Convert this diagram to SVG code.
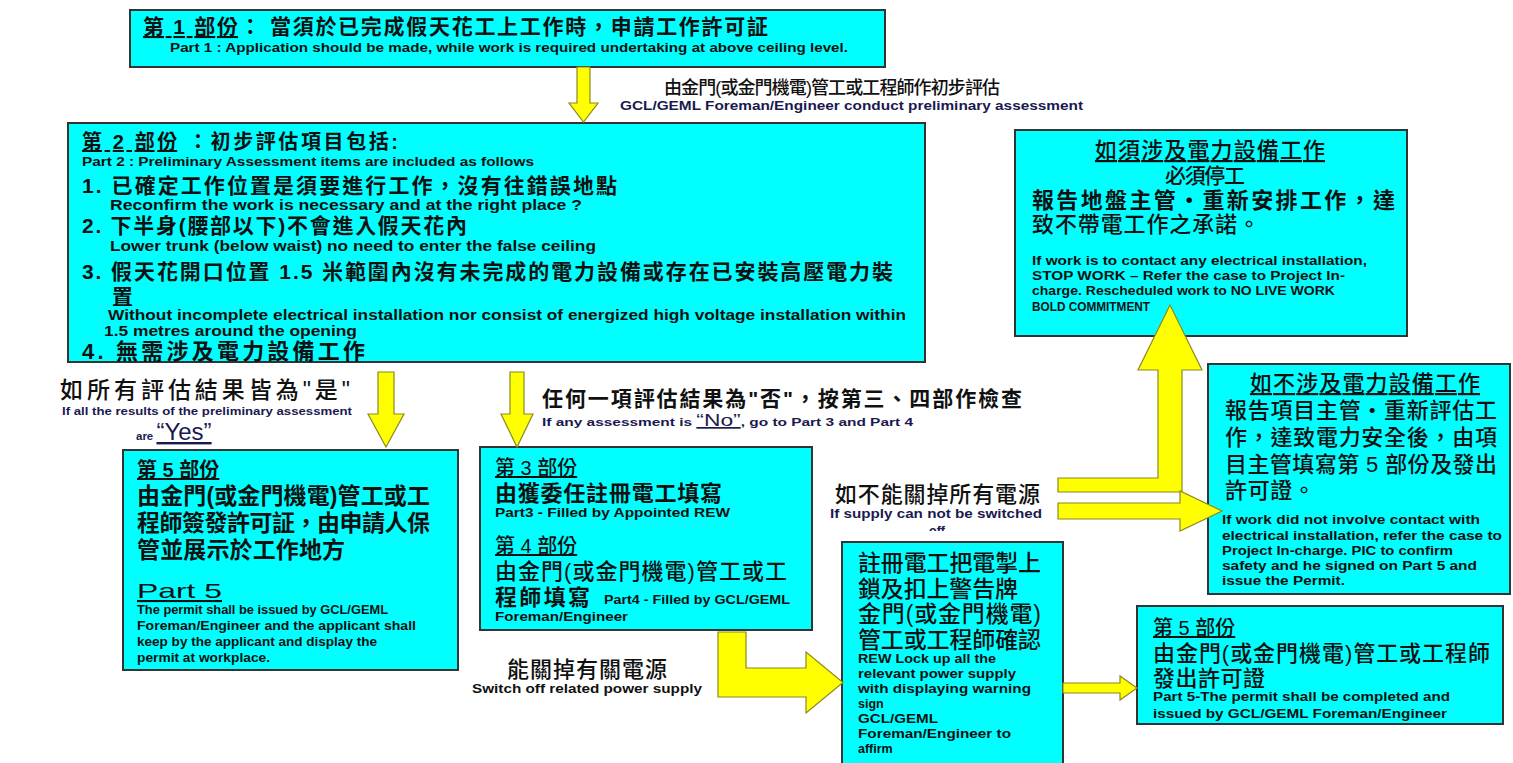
<svg xmlns="http://www.w3.org/2000/svg" width="1513" height="763" viewBox="0 0 1513 763">
<style>
text{font-family:"Liberation Sans","Noto Sans CJK TC",sans-serif;fill:#111;font-weight:700}
.box{fill:#00FFFF;stroke:#333;stroke-width:2}
.arr{fill:#FFFF00;stroke:#8a8a20;stroke-width:1.2}
.c{font-size:21px}
.e{font-size:12.5px}
.e14{font-size:14px}
.u{text-decoration:underline}
.nv{fill:#1a1a50}
.lbl{font-weight:500}
</style>
<defs>
<clipPath id="offclip"><rect x="880" y="520" width="120" height="11"/></clipPath>
</defs>

<g id="part1">
<rect class="box" x="130" y="10" width="755" height="57"/>
<text class="c" x="143" y="34" textLength="625"><tspan class="u">第 1 部份</tspan>： 當須於已完成假天花工上工作時，申請工作許可証</text>
<text class="e" x="170" y="52" textLength="678" lengthAdjust="spacingAndGlyphs">Part 1 : Application should be made, while work is required undertaking at above ceiling level.</text>
</g>

<g id="label-prelim">
<text class="lbl" x="664" y="94" style="font-size:18px" textLength="336">由金門(或金門機電)管工或工程師作初步評估</text>
<text class="e nv" x="620" y="110" textLength="463" lengthAdjust="spacingAndGlyphs">GCL/GEML Foreman/Engineer conduct preliminary assessment</text>
</g>

<g id="part2">
<rect class="box" x="68" y="123" width="857" height="239"/>
<text x="82" y="149" style="font-size:20px" textLength="316"><tspan class="u">第 2 部份</tspan> ：初步評估項目包括:</text>
<text class="e" x="82" y="166" textLength="452" lengthAdjust="spacingAndGlyphs">Part 2 : Preliminary Assessment items are included as follows</text>
<text class="c" x="82" y="193" textLength="535">1.  已確定工作位置是須要進行工作，沒有往錯誤地點</text>
<text class="e14" x="110" y="210" textLength="472" lengthAdjust="spacingAndGlyphs">Reconfirm the work is necessary and at the right place ?</text>
<text class="c" x="82" y="233" textLength="385">2. 下半身(腰部以下)不會進入假天花內</text>
<text class="e14" x="110" y="251" textLength="486" lengthAdjust="spacingAndGlyphs">Lower trunk (below waist) no need to enter the false ceiling</text>
<text class="c" x="82" y="279" textLength="811">3. 假天花開口位置 1.5 米範圍內沒有未完成的電力設備或存在已安裝高壓電力裝</text>
<text class="c" x="112" y="304">置</text>
<text class="e14" x="108" y="320" textLength="798" lengthAdjust="spacingAndGlyphs">Without incomplete electrical installation nor consist of energized high voltage installation within</text>
<text class="e14" x="104" y="336" textLength="253" lengthAdjust="spacingAndGlyphs">1.5 metres around the opening</text>
<text x="82" y="359" style="font-size:22px" textLength="283">4. 無需涉及電力設備工作</text>
</g>

<g id="label-yes">
<text class="lbl" x="60" y="398" style="font-size:23px" textLength="290">如所有評估結果皆為"是"</text>
<text class="nv" x="62" y="415" style="font-size:11.5px" textLength="290" lengthAdjust="spacingAndGlyphs">If all the results of the preliminary assessment</text>
<text class="nv" x="136" y="440" style="font-size:11.5px">are <tspan class="u" style="font-size:24px;font-weight:400">“Yes”</tspan></text>
</g>

<g id="label-no">
<text x="542" y="406" style="font-size:21px" textLength="480">任何一項評估結果為"否"，按第三、四部作檢查</text>
<text class="nv" x="542" y="426" style="font-size:11.5px" textLength="371" lengthAdjust="spacingAndGlyphs">If any assessment is <tspan class="u" style="font-size:17px;font-weight:400">“No”</tspan>, go to Part 3 and Part 4</text>
</g>

<g id="part5-left">
<rect class="box" x="123" y="450" width="335" height="220"/>
<text class="u" x="137" y="477" style="font-size:20px">第 5 部份</text>
<text x="137" y="504" style="font-size:23px" textLength="293">由金門(或金門機電)管工或工</text>
<text x="137" y="531" style="font-size:23px" textLength="293">程師簽發許可証，由申請人保</text>
<text x="137" y="558" style="font-size:23px" textLength="208">管並展示於工作地方</text>
<text class="u" x="137" y="598" style="font-size:21px;font-weight:400" textLength="85" lengthAdjust="spacingAndGlyphs">Part 5</text>
<text class="e" x="137" y="614" textLength="251" lengthAdjust="spacingAndGlyphs">The permit shall be issued by GCL/GEML</text>
<text class="e" x="137" y="630" textLength="279" lengthAdjust="spacingAndGlyphs">Foreman/Engineer and the applicant shall</text>
<text class="e" x="137" y="646" textLength="240" lengthAdjust="spacingAndGlyphs">keep by the applicant and display the</text>
<text class="e" x="137" y="662" textLength="133" lengthAdjust="spacingAndGlyphs">permit at workplace.</text>
</g>

<g id="part34">
<rect class="box" x="480" y="447" width="332" height="183"/>
<text class="u" x="495" y="475" style="font-size:20px;font-weight:500">第 3 部份</text>
<text x="495" y="501" style="font-size:22px" textLength="227">由獲委任註冊電工填寫</text>
<text class="e" x="495" y="517" textLength="235" lengthAdjust="spacingAndGlyphs">Part3 - Filled by Appointed REW</text>
<text class="u" x="495" y="553" style="font-size:20px;font-weight:500">第 4 部份</text>
<text x="495" y="579" style="font-size:22px;font-weight:500" textLength="292">由金門(或金門機電)管工或工</text>
<text x="495" y="605" style="font-size:22px" textLength="95">程師填寫</text>
<text class="e" x="604" y="604" textLength="186" lengthAdjust="spacingAndGlyphs">Part4 - Filled by GCL/GEML</text>
<text class="e" x="495" y="621" textLength="133" lengthAdjust="spacingAndGlyphs">Foreman/Engineer</text>
</g>

<g id="label-cannot">
<text x="835" y="502" style="font-size:22px;font-weight:500" textLength="205">如不能關掉所有電源</text>
<text class="e nv" x="830" y="518" textLength="212" lengthAdjust="spacingAndGlyphs">If supply can not be switched</text>
<text class="e nv" x="937" y="535" text-anchor="middle" clip-path="url(#offclip)">off</text>
</g>

<g id="label-can">
<text x="507" y="677" style="font-size:22px;font-weight:500" textLength="160">能關掉有關電源</text>
<text class="e" x="472" y="693" textLength="230" lengthAdjust="spacingAndGlyphs">Switch off related power supply</text>
</g>

<g id="rew">
<rect class="box" x="842" y="542" width="221" height="230"/>
<text x="858" y="571" style="font-size:23px;font-weight:500" textLength="183">註冊電工把電掣上</text>
<text x="858" y="597" style="font-size:23px;font-weight:500" textLength="160">鎖及扣上警告牌</text>
<text x="858" y="622" style="font-size:23px;font-weight:500" textLength="183">金門(或金門機電)</text>
<text x="858" y="648" style="font-size:23px;font-weight:500" textLength="183">管工或工程師確認</text>
<text class="e" x="858" y="663" textLength="138" lengthAdjust="spacingAndGlyphs">REW Lock up all the</text>
<text class="e" x="858" y="678" textLength="158" lengthAdjust="spacingAndGlyphs">relevant power supply</text>
<text class="e" x="858" y="693" textLength="173" lengthAdjust="spacingAndGlyphs">with displaying warning</text>
<text class="e" x="858" y="708">sign</text>
<text class="e" x="858" y="723" textLength="80" lengthAdjust="spacingAndGlyphs">GCL/GEML</text>
<text class="e" x="858" y="738" textLength="153" lengthAdjust="spacingAndGlyphs">Foreman/Engineer to</text>
<text class="e" x="858" y="753">affirm</text>
</g>

<g id="part5-right">
<rect class="box" x="1137" y="606" width="366" height="118"/>
<text class="u" x="1153" y="635" style="font-size:20px;font-weight:500">第 5 部份</text>
<text x="1153" y="661" style="font-size:22px;font-weight:500" textLength="337">由金門(或金門機電)管工或工程師</text>
<text x="1153" y="686" style="font-size:22px;font-weight:500" textLength="112">發出許可證</text>
<text class="e" x="1153" y="701" textLength="297" lengthAdjust="spacingAndGlyphs">Part 5-The permit shall be completed and</text>
<text class="e" x="1153" y="718" textLength="294" lengthAdjust="spacingAndGlyphs">issued by GCL/GEML Foreman/Engineer</text>
</g>

<g id="electrical-yes">
<rect class="box" x="1015" y="130" width="392" height="206"/>
<text class="u" x="1095" y="158" style="font-size:22px;font-weight:500" textLength="230">如須涉及電力設備工作</text>
<text x="1165" y="183" style="font-size:21px;font-weight:500" textLength="80">必須停工</text>
<text x="1032" y="208" style="font-size:22px" textLength="363">報告地盤主管・重新安排工作，達</text>
<text x="1032" y="232" style="font-size:22px;font-weight:500" textLength="228">致不帶電工作之承諾。</text>
<text class="e" x="1032" y="265" textLength="335" lengthAdjust="spacingAndGlyphs">If work is to contact any electrical installation,</text>
<text class="e" x="1032" y="280" textLength="313" lengthAdjust="spacingAndGlyphs">STOP WORK – Refer the case to Project In-</text>
<text class="e" x="1032" y="295" textLength="303" lengthAdjust="spacingAndGlyphs">charge. Rescheduled work to NO LIVE WORK</text>
<text class="e" x="1032" y="311" textLength="118" lengthAdjust="spacingAndGlyphs">BOLD COMMITMENT</text>
</g>

<g id="electrical-no">
<rect class="box" x="1208" y="364" width="302" height="230"/>
<text class="u" x="1250" y="391" style="font-size:22px;font-weight:500" textLength="230">如不涉及電力設備工作</text>
<text x="1225" y="418" style="font-size:22px;font-weight:500" textLength="272">報告項目主管・重新評估工</text>
<text x="1225" y="445" style="font-size:22px;font-weight:500" textLength="272">作，達致電力安全後，由項</text>
<text x="1225" y="472" style="font-size:22px;font-weight:500" textLength="272">目主管填寫第 5 部份及發出</text>
<text x="1225" y="498" style="font-size:22px;font-weight:500" textLength="90">許可證。</text>
<text class="e" x="1222" y="524" textLength="258" lengthAdjust="spacingAndGlyphs">If work did not involve contact with</text>
<text class="e" x="1222" y="540" textLength="280" lengthAdjust="spacingAndGlyphs">electrical installation, refer the case to</text>
<text class="e" x="1222" y="555" textLength="231" lengthAdjust="spacingAndGlyphs">Project In-charge. PIC to confirm</text>
<text class="e" x="1222" y="570" textLength="255" lengthAdjust="spacingAndGlyphs">safety and he signed on Part 5 and</text>
<text class="e" x="1222" y="585" textLength="123" lengthAdjust="spacingAndGlyphs">issue the Permit.</text>
</g>

<g id="connectors">
<polygon class="arr" points="577,67 590,67 590,103 598,103 583.5,122 569,103 577,103"/>
<polygon class="arr" points="378,372 394,372 394,414 404,414 386,447 368,414 378,414"/>
<polygon class="arr" points="510,372 524,372 524,414 533,414 517,447 501,414 510,414"/>
<polygon class="arr" points="718,632 746,632 746,668 806,668 806,652 843,682.5 806,713 806,697 718,697"/>
<polygon class="arr" points="1063,683 1120,683 1120,676 1137,688 1120,700 1120,693 1063,693"/>
<polygon class="arr" points="1058,478 1158,478 1158,370 1138,370 1170,305 1202,370 1182,370 1182,492 1058,492"/>
<polygon class="arr" points="1058,503 1180,503 1180,491 1222,511 1180,531 1180,519 1058,519"/>
</g>
</svg>
